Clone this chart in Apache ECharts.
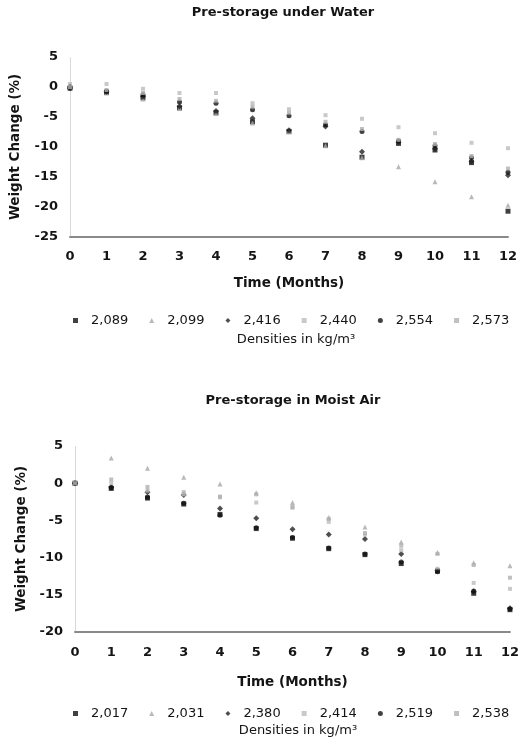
<!DOCTYPE html>
<html>
<head>
<meta charset="utf-8">
<script src="https://cdn.jsdelivr.net/npm/echarts@6/dist/echarts.min.js"></script>
<style>
  html, body { margin: 0; padding: 0; background: #fff; }
  #chart { width: 522px; height: 738px; }
</style>
</head>
<body>
<div id="chart"></div>
<script>
// Time axis (months) shared by both panels
const months = [0, 1, 2, 3, 4, 5, 6, 7, 8, 9, 10, 11, 12];

// Panel 1: pre-storage under water, weight change (%) per density (kg/m³)
const waterNames = ['2,089', '2,099', '2,416', '2,440', '2,554', '2,573'];
const water2089 = [-0.2, -0.9, -1.8, -3.5, -4.3, -5.8, -7.4, -9.7, -11.7, -9.4, -10.5, -12.6, -20.7];
const water2099 = [0, -1.0, -2.0, -3.6, -4.4, -6.0, -7.5, -9.8, -11.8, -13.3, -15.8, -18.3, -19.7];
const water2416 = [-0.2, -0.8, -1.6, -3.2, -4.0, -5.2, -7.2, -6.6, -10.8, -9.2, -10.3, -12.4, -14.7];
const water2440 = [0.5, 0.5, -0.3, -1.0, -1.0, -2.7, -3.7, -4.7, -5.3, -6.7, -7.7, -9.3, -10.2];
const water2554 = [0, -0.7, -1.3, -2.5, -2.7, -3.8, -4.8, -6.3, -7.4, -9.0, -9.8, -11.8, -14.2];
const water2573 = [0, -0.5, -1.0, -2.0, -2.3, -3.3, -4.3, -5.8, -7.0, -8.8, -9.5, -11.5, -13.6];
const waterTicks = [-25, 5, 5]; // min, max, interval

// Panel 2: pre-storage in moist air
const airNames = ['2,017', '2,031', '2,380', '2,414', '2,519', '2,538'];
const air2017 = [0, -0.7, -2.0, -2.8, -4.2, -6.1, -7.4, -8.8, -9.6, -10.8, -11.8, -14.8, -17.0];
const air2031 = [0, 3.4, 2.0, 0.8, -0.1, -1.3, -2.6, -4.6, -5.9, -7.9, -9.3, -10.7, -11.1];
const air2380 = [0, -0.5, -1.2, -1.6, -3.4, -4.7, -6.2, -6.9, -7.5, -9.5, -11.7, -14.6, -16.8];
const air2414 = [0, 0, -1.0, -1.5, -1.9, -2.6, -3.3, -5.2, -6.9, -9.0, -11.5, -13.4, -14.2];
const air2519 = [0, -0.6, -1.9, -2.7, -4.3, -6.0, -7.3, -8.7, -9.5, -10.6, -11.9, -14.5, -16.9];
const air2538 = [0, 0.5, -0.5, -1.2, -1.8, -1.5, -3.2, -4.8, -6.7, -8.4, -9.5, -11.0, -12.7];
const airTicks = [-20, 5, 5];

const waterValues = [water2089, water2099, water2416, water2440, water2554, water2573];
const airValues = [air2017, air2031, air2380, air2414, air2519, air2538];

// marker look per legend slot: dark / light alternating
const markStyles = [
  { symbol: 'rect', color: '#111', size: 5 },
  { symbol: 'triangle', color: '#a8a8a8', size: 5 },
  { symbol: 'diamond', color: '#222', size: 6 },
  { symbol: 'rect', color: '#bbb', size: 4 },
  { symbol: 'circle', color: '#111', size: 5 },
  { symbol: 'rect', color: '#b0b0b0', size: 4 }
];

const FONT = '"DejaVu Sans", Verdana, sans-serif';
const INK = '#141414';

function pairs(vals) {
  return months.map((m, i) => [m, vals[i]]);
}

function buildSeries(names, values, gridIdx) {
  return names.map((n, k) => ({
    name: n,
    type: 'scatter',
    xAxisIndex: gridIdx,
    yAxisIndex: gridIdx,
    symbol: markStyles[k].symbol,
    symbolSize: markStyles[k].size,
    itemStyle: { color: markStyles[k].color },
    data: pairs(values[k])
  }));
}

function xAxisFor(gridIdx, gap, margin) {
  return {
    gridIndex: gridIdx,
    type: 'value',
    min: 0, max: 12, interval: 1,
    name: 'Time (Months)',
    nameLocation: 'middle',
    nameGap: gap,
    nameTextStyle: { fontFamily: FONT, fontWeight: 'bold', fontSize: 13.5, color: INK },
    axisLine: { onZero: false, lineStyle: { color: '#8a8a8a', width: 2 } },
    axisTick: { show: false },
    splitLine: { show: false },
    axisLabel: { fontFamily: FONT, fontWeight: 'bold', fontSize: 13, color: INK, margin: margin }
  };
}

function yAxisFor(gridIdx, ticks, gap) {
  return {
    gridIndex: gridIdx,
    type: 'value',
    min: ticks[0], max: ticks[1], interval: ticks[2],
    name: 'Weight Change (%)',
    nameLocation: 'middle',
    nameRotate: 90,
    nameGap: gap,
    nameTextStyle: { fontFamily: FONT, fontWeight: 'bold', fontSize: 13.5, color: INK },
    axisLine: { show: true, lineStyle: { color: '#d0d0d0', width: 1, type: 'dotted' } },
    axisTick: { show: false },
    splitLine: { show: false },
    axisLabel: { fontFamily: FONT, fontWeight: 'bold', fontSize: 13, color: INK, margin: 12 }
  };
}

function legendFor(names, top) {
  return {
    data: names,
    top: top,
    left: 68,
    width: 450,
    itemWidth: 5,
    itemHeight: 5,
    itemGap: 21,
    textStyle: { fontFamily: FONT, fontSize: 13, color: INK, padding: [0, 0, 0, 8] }
  };
}

const chart = echarts.init(document.getElementById('chart'), null, { renderer: 'canvas' });

chart.setOption({
  backgroundColor: '#fff',
  animation: false,
  title: [
    { text: 'Pre-storage under Water', left: 278, top: 1, textAlign: 'center',
      textStyle: { fontFamily: FONT, fontWeight: 'bold', fontSize: 13, color: INK } },
    { text: 'Densities in kg/m³', left: 291, top: 328, textAlign: 'center',
      textStyle: { fontFamily: FONT, fontWeight: 'normal', fontSize: 13, color: INK } },
    { text: 'Pre-storage in Moist Air', left: 288, top: 389, textAlign: 'center',
      textStyle: { fontFamily: FONT, fontWeight: 'bold', fontSize: 13, color: INK } },
    { text: 'Densities in kg/m³', left: 293, top: 719, textAlign: 'center',
      textStyle: { fontFamily: FONT, fontWeight: 'normal', fontSize: 13, color: INK } }
  ],
  legend: [
    legendFor(waterNames, 309),
    legendFor(airNames, 702)
  ],
  grid: [
    { left: 70, width: 438, top: 57, height: 180 },
    { left: 75, width: 437, top: 446, height: 186 }
  ],
  xAxis: [xAxisFor(0, 39, 13), xAxisFor(1, 43, 14)],
  yAxis: [yAxisFor(0, waterTicks, 48), yAxisFor(1, airTicks, 45)],
  series: buildSeries(waterNames, waterValues, 0).concat(buildSeries(airNames, airValues, 1))
});
</script>
</body>
</html>
